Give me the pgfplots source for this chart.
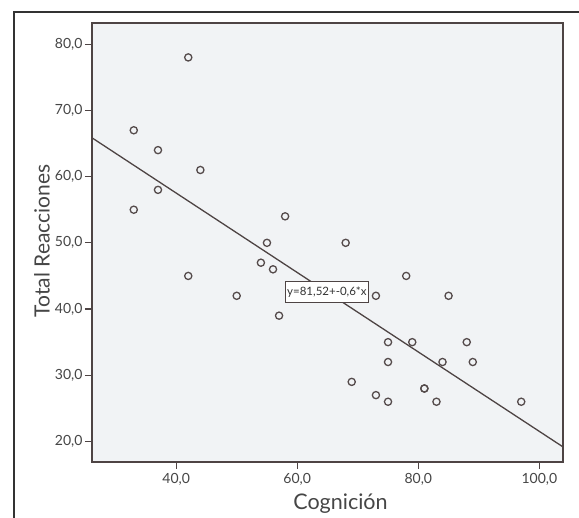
\documentclass[border=0pt]{standalone}
\usepackage{pgfplots}
\pgfplotsset{compat=1.18}
\usepackage{fontspec}
\setmainfont{Lato}
\definecolor{axdark}{RGB}{78,68,68}
\definecolor{bgplot}{RGB}{241,243,245}
\definecolor{txt}{RGB}{70,70,70}
\definecolor{mk}{RGB}{85,75,75}
\begin{document}
\begin{tikzpicture}
\useasboundingbox[fill=white] (0pt,0pt) rectangle (579pt,-518pt);
\draw[line width=1.6pt, color=black!80] (14pt,-520pt) -- (14pt,-12pt) -- (581pt,-12pt);
\begin{axis}[
  at={(92pt,-462pt)}, anchor=south west,
  scale only axis, width=471pt, height=439pt,
  xmin=26.1, xmax=103.9, ymin=16.9, ymax=83.2,
  xtick={40,60,80,100}, ytick={20,30,40,50,60,70,80},
  xtick pos=bottom, ytick pos=left,
  tick align=outside, major tick length=7pt,
  tick style={draw=axdark, line width=1.1pt},
  axis line style={draw=axdark, line width=1.2pt},
  axis background/.style={fill=bgplot},
  /pgf/number format/.cd, fixed, fixed zerofill, precision=1, use comma, assume math mode=true,
  /pgfplots/.cd,
  ticklabel style={font=\fontsize{14}{16}\selectfont, text=txt},
  xticklabel style={yshift=-1pt},
  yticklabel style={xshift=1pt},
]
\addplot[no marks, color=axdark, line width=1.3pt] coordinates {(26.1,65.86) (103.9,19.18)};
\node[draw=axdark, fill=white, line width=0.9pt, font=\fontsize{11.5}{13}\selectfont, text=black!80, inner xsep=2pt, minimum height=21pt] at (axis cs:64.9,42.6) {y=81,52+-0,6*x};
\addplot[only marks, mark=o, mark size=3.6pt, mark options={draw=mk, line width=1.3pt}] coordinates {
(42,78) (33,67) (37,64) (44,61) (37,58) (33,55) (42,45)
(58,54) (55,50) (68,50) (54,47) (56,46) (50,42) (57,39) (73,42)
(78,45) (85,42) (75,35) (79,35) (88,35) (75,32) (84,32) (89,32)
(81,28) (81,28) (75,26) (83,26) (97,26) (69,29) (73,27)
};
\end{axis}
\node[rotate=90, font=\fontsize{21}{23}\selectfont, text=txt] at (42pt,-241pt) {Total Reacciones};
\node[anchor=base, font=\fontsize{21.5}{23}\selectfont, text=txt] at (340.5pt,-510pt) {Cognición};
\end{tikzpicture}
\end{document}
